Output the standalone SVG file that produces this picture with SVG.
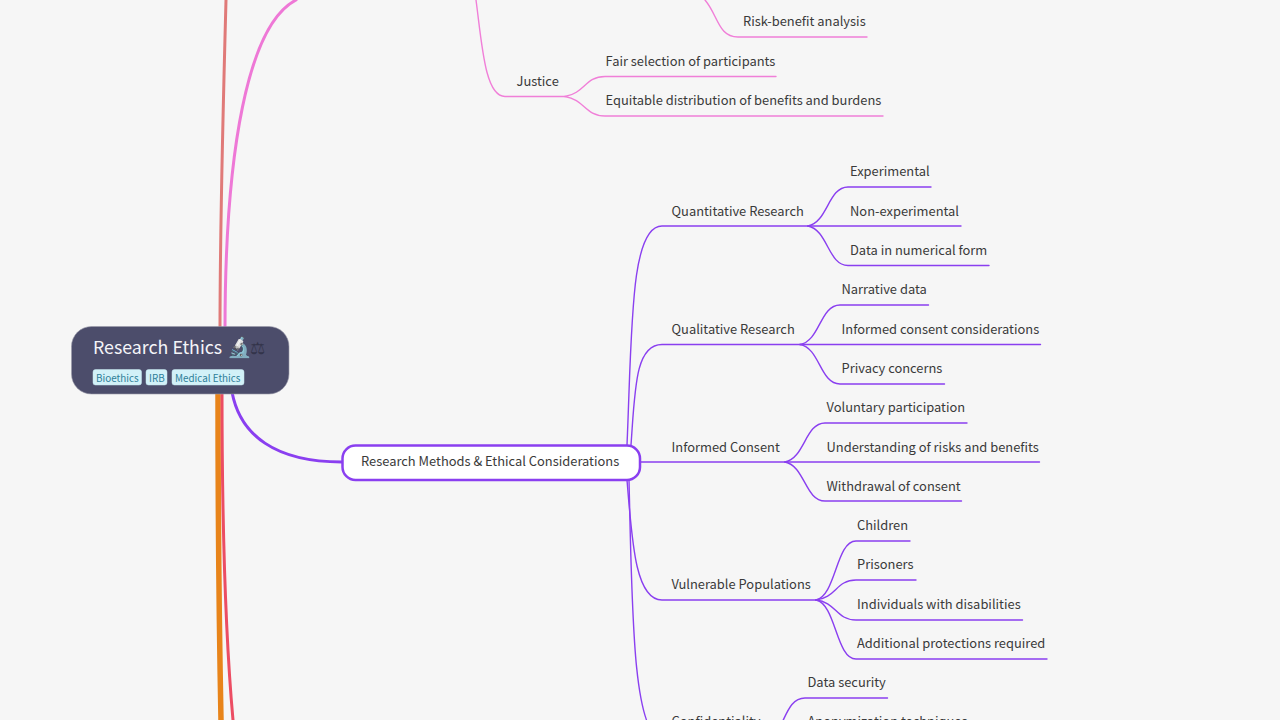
<svg xmlns="http://www.w3.org/2000/svg" width="1280" height="720" viewBox="0 0 1280 720">
<style>
text{font-family:"Noto Sans CJK SC","Noto Sans",sans-serif;font-size:12.9px;fill:#3a3a3a}
.c{fill:none;stroke-linecap:round}
.p{stroke:#8a3ff0;stroke-width:1.4}
.k{stroke:#f07fd8;stroke-width:1.4}
.tag{fill:#d2f1f8;stroke:#c4e6ee;stroke-width:.5}
.tt{font-size:9.9px;fill:#2f7f99}
</style>
<rect width="1280" height="720" fill="#f6f6f6"/>
<g id="connectors">
<path class="c" stroke="#e07a78" stroke-width="3" d="M226 0C223 110 220 220 220 330"/>
<path class="c" stroke="#ee78d6" stroke-width="3" d="M296 0C248 25 225 150 225 330"/>
<path class="c" stroke="#e8841a" stroke-width="5.500" d="M218 390C218 500 219 620 221 720"/>
<path class="c" stroke="#ec4d63" stroke-width="3" d="M222 390C222 500 224 620 233 720"/>
<path class="c" stroke="#8a3ff0" stroke-width="3" d="M232 392C240 435 275 462 342 462"/>
<path class="c k" d="M476 0C482 45 485 96.500 505 96.500H565"/>
<path class="c k" d="M565 96.500C585 93 585 76.500 605 76.500H776"/>
<path class="c k" d="M565 96.500C585 100 585 116 605 116H883"/>
<path class="c k" d="M705 0C718 15 718 37 738 37H867"/>
<path class="c p" d="M627 445C632 330 630 226 662 226H808"/>
<path class="c p" d="M631 445C635 390 635 344.500 662 344.500H800"/>
<path class="c p" d="M640 462H785"/>
<path class="c p" d="M627 480C632 540 635 600 662 600H816"/>
<path class="c p" d="M629 480C632 600 632 738 662 738H770"/>
<path class="c p" d="M808 226C828 222 828 187 848 187H931"/>
<path class="c p" d="M808 226H961"/>
<path class="c p" d="M808 226C828 230 828 265.500 848 265.500H989"/>
<path class="c p" d="M800 344.500C820 341 820 305 840 305H928.500"/>
<path class="c p" d="M800 344.500H1040.500"/>
<path class="c p" d="M800 344.500C820 348 820 384 840 384H944.500"/>
<path class="c p" d="M785 462C805 458 805 423 825 423H967"/>
<path class="c p" d="M785 462H1039.500"/>
<path class="c p" d="M785 462C805 466 805 501 825 501H961.500"/>
<path class="c p" d="M816 600C836 596 836 541 856 541H910"/>
<path class="c p" d="M816 600C836 598 836 580 856 580H916"/>
<path class="c p" d="M816 600C836 602 836 620 856 620H1022.500"/>
<path class="c p" d="M816 600C836 604 836 659 856 659H1047"/>
<path class="c p" d="M770 738C785 730 785 698 805 698H887.500"/>
</g>
<g id="root">
<rect x="71.500" y="326.500" width="217.500" height="67.500" rx="20" fill="#4c4d6b" stroke="#9a9aaa" stroke-width=".6"/>
<text x="93" y="354" style="font-size:17.800px;fill:#f4f4f8">Research Ethics <tspan x="226.500" style="font-size:20px">🔬</tspan><tspan x="249.500" style="font-size:17px;fill:#33344a">⚖</tspan></text>
<rect class="tag" x="93" y="369.500" width="48.500" height="15.500" rx="2.500"/><text class="tt" x="96" y="381.500">Bioethics</text>
<rect class="tag" x="146" y="369.500" width="21" height="15.500" rx="2.500"/><text class="tt" x="149" y="381.500">IRB</text>
<rect class="tag" x="172" y="369.500" width="72" height="15.500" rx="2.500"/><text class="tt" x="175" y="381.500">Medical Ethics</text>
</g>
<g id="main">
<rect x="342.500" y="445.500" width="297.500" height="34.500" rx="13" fill="#fff" stroke="#8a3ff0" stroke-width="2.500"/>
<text x="361" y="465.500">Research Methods &amp; Ethical Considerations</text>
</g>
<g id="labels">
<g id="n-risk"><text x="743" y="26">Risk-benefit analysis</text></g>
<g id="n-justice"><text x="516.500" y="85.500">Justice</text></g>
<g id="n-fair"><text x="605.500" y="65.500">Fair selection of participants</text></g>
<g id="n-equit"><text x="605.500" y="105">Equitable distribution of benefits and burdens</text></g>
<g id="n-quant"><text x="671.500" y="215.500">Quantitative Research</text></g>
<g id="n-exp"><text x="850" y="176">Experimental</text></g>
<g id="n-nonexp"><text x="850" y="215.500">Non-experimental</text></g>
<g id="n-data"><text x="850" y="255">Data in numerical form</text></g>
<g id="n-qual"><text x="671.500" y="333.500">Qualitative Research</text></g>
<g id="n-narr"><text x="841.500" y="294">Narrative data</text></g>
<g id="n-icc"><text x="841.500" y="333.500">Informed consent considerations</text></g>
<g id="n-priv"><text x="841.500" y="373">Privacy concerns</text></g>
<g id="n-ic"><text x="671.500" y="451.500">Informed Consent</text></g>
<g id="n-vol"><text x="826.500" y="412">Voluntary participation</text></g>
<g id="n-und"><text x="826.500" y="451.500">Understanding of risks and benefits</text></g>
<g id="n-wd"><text x="826.500" y="491">Withdrawal of consent</text></g>
<g id="n-vp"><text x="671.500" y="589">Vulnerable Populations</text></g>
<g id="n-ch"><text x="857" y="530">Children</text></g>
<g id="n-pr"><text x="857" y="569">Prisoners</text></g>
<g id="n-ind"><text x="857" y="608.500">Individuals with disabilities</text></g>
<g id="n-add"><text x="857" y="648">Additional protections required</text></g>
<g id="n-conf"><text x="671.500" y="726">Confidentiality</text></g>
<g id="n-sec"><text x="807.500" y="687">Data security</text></g>
<g id="n-anon"><text x="807.500" y="726">Anonymization techniques</text></g>
</g>
</svg>
